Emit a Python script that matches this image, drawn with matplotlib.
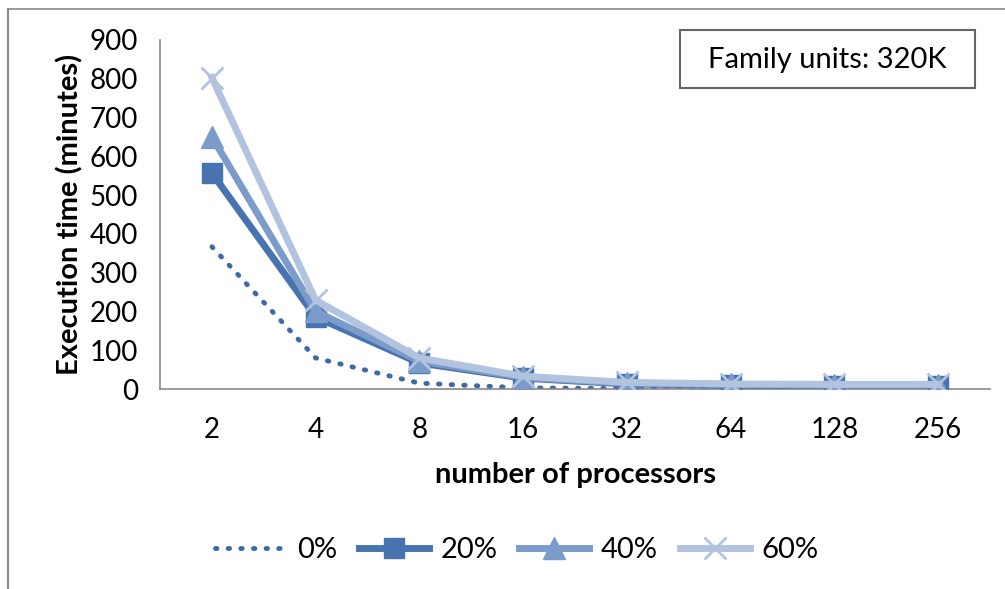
import matplotlib
matplotlib.use("Agg")
import matplotlib.pyplot as plt
from matplotlib.lines import Line2D
from matplotlib.patches import Rectangle

plt.rcParams['font.family'] = ['Lato', 'DejaVu Sans']

processors = ['2', '4', '8', '16', '32', '64', '128', '256']
s0 = [367, 80, 15, 3, 1, 1, 1, 1]
s20 = [557, 186, 67, 28, 13, 10, 8, 8]
s40 = [650, 200, 72, 30, 15, 12, 10, 10]
s60 = [803, 229, 80, 33, 17, 13, 12, 12]
labels = ['0%', '20%', '40%', '60%']
yticks = [0, 100, 200, 300, 400, 500, 600, 700, 800, 900]

c0 = '#3E6BA3'
c20 = '#4774B0'
c40 = '#7B9BCB'
c60 = '#B1C3DE'

fig = plt.figure(figsize=(10.05, 5.89), dpi=100)
ax = fig.add_axes([160/1005, 1-389/589, 830/1005, 349/589])

x = list(range(len(processors)))
dot = (0, (0.3, 2.3))
ax.plot(x, s0, color=c0, lw=3.5, linestyle=dot, dash_capstyle='round', zorder=2)
ax.plot(x, s20, color=c20, lw=5, marker='s', ms=14, zorder=3)
ax.plot(x, s40, color=c40, lw=5, marker='^', ms=16, zorder=4)
ax.plot(x, s60, color=c60, lw=5, marker='x', ms=16, mew=2, zorder=5)

ax.set_xlim(-0.5, len(processors) - 0.5)
ax.set_ylim(0, 900)
ax.set_yticks(yticks)
ax.set_xticks(x)
ax.set_xticklabels(processors)
ax.tick_params(axis='both', length=0, labelsize=20)
ax.tick_params(axis='y', pad=16)
ax.tick_params(axis='x', pad=20)
for s in ['top', 'right']:
    ax.spines[s].set_visible(False)
for s in ['left', 'bottom']:
    ax.spines[s].set_color('#888888')
    ax.spines[s].set_linewidth(1.2)

ax.set_ylabel('Execution time (minutes)', fontsize=21, fontweight='bold', labelpad=4)
ax.set_xlabel('number of processors', fontsize=21, fontweight='bold', labelpad=14)

# text box
fig.add_artist(Rectangle((680/1005, 1-88/589), 295/1005, 58/589, transform=fig.transFigure,
                         fc='white', ec='#666666', lw=1.5))
fig.text(827/1005, 1-60/589, 'Family units: 320K', fontsize=21, ha='center', va='center')

# frame lines
fig.add_artist(Line2D([8/1005, 1], [1-9/589, 1-9/589], color='#888888', lw=1.2))
fig.add_artist(Line2D([8/1005, 8/1005], [0, 1-9/589], color='#888888', lw=1.5))

handles = [
    Line2D([], [], color=c0, lw=3.5, linestyle=dot, dash_capstyle='round'),
    Line2D([], [], color=c20, lw=5, marker='s', ms=14),
    Line2D([], [], color=c40, lw=5, marker='^', ms=16),
    Line2D([], [], color=c60, lw=5, marker='x', ms=16, mew=2),
]
fig.legend(handles, labels, loc='center', bbox_to_anchor=(517/1005, 1-550/589), ncol=4,
           frameon=False, fontsize=21, handlelength=2.4, columnspacing=0.75, handletextpad=0.4)

fig.savefig('out.png', dpi=100)
